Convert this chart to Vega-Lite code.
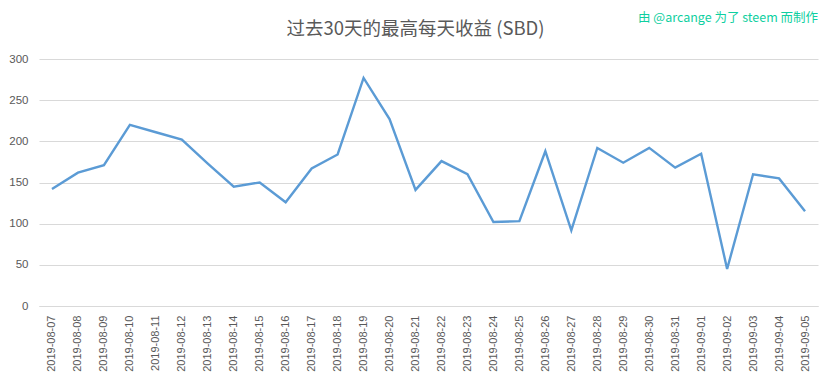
{
  "$schema": "https://vega.github.io/schema/vega-lite/v6.json",
  "width": 779,
  "height": 247,
  "autosize": {"type": "none"},
  "padding": {"left": 39, "top": 59, "right": 15, "bottom": 73},
  "background": "white",
  "config": {
    "view": {"stroke": null},
    "axis": {
      "labelFont": "Liberation Sans",
      "labelColor": "#595959",
      "labelFontSize": 11,
      "ticks": false,
      "title": null
    }
  },
  "datasets": {
    "earnings": [
      {"date": "2019-08-07", "sbd": 142},
      {"date": "2019-08-08", "sbd": 162},
      {"date": "2019-08-09", "sbd": 171},
      {"date": "2019-08-10", "sbd": 220},
      {"date": "2019-08-11", "sbd": 211},
      {"date": "2019-08-12", "sbd": 202},
      {"date": "2019-08-13", "sbd": 173},
      {"date": "2019-08-14", "sbd": 145},
      {"date": "2019-08-15", "sbd": 150},
      {"date": "2019-08-16", "sbd": 126},
      {"date": "2019-08-17", "sbd": 167},
      {"date": "2019-08-18", "sbd": 184},
      {"date": "2019-08-19", "sbd": 277},
      {"date": "2019-08-20", "sbd": 227},
      {"date": "2019-08-21", "sbd": 141},
      {"date": "2019-08-22", "sbd": 176},
      {"date": "2019-08-23", "sbd": 160},
      {"date": "2019-08-24", "sbd": 102},
      {"date": "2019-08-25", "sbd": 103},
      {"date": "2019-08-26", "sbd": 188},
      {"date": "2019-08-27", "sbd": 92},
      {"date": "2019-08-28", "sbd": 192},
      {"date": "2019-08-29", "sbd": 174},
      {"date": "2019-08-30", "sbd": 192},
      {"date": "2019-08-31", "sbd": 168},
      {"date": "2019-09-01", "sbd": 185},
      {"date": "2019-09-02", "sbd": 45},
      {"date": "2019-09-03", "sbd": 160},
      {"date": "2019-09-04", "sbd": 155},
      {"date": "2019-09-05", "sbd": 115}
    ],
    "title": [{"label": "过去30天的最高每天收益 (SBD)"}],
    "note": [{"label": "由 @arcange 为了 steem 而制作"}]
  },
  "layer": [
    {
      "data": {"name": "earnings"},
      "mark": {"type": "line", "color": "#5B9BD5", "strokeWidth": 2.4},
      "encoding": {
        "x": {
          "field": "date",
          "type": "ordinal",
          "sort": null,
          "scale": {"type": "point", "padding": 0.5},
          "axis": {
            "labelAngle": -90,
            "labelPadding": 9,
            "domain": true,
            "domainColor": "#d9d9d9",
            "domainWidth": 1,
            "grid": false
          }
        },
        "y": {
          "field": "sbd",
          "type": "quantitative",
          "scale": {"domain": [0, 300], "nice": false},
          "axis": {
            "values": [0, 50, 100, 150, 200, 250, 300],
            "domain": false,
            "grid": true,
            "gridColor": "#d9d9d9",
            "gridWidth": 1,
            "labelPadding": 11,
            "labelFontSize": 11.5
          }
        }
      }
    },
    {
      "data": {"name": "title"},
      "mark": {
        "type": "text",
        "font": "Noto Sans CJK SC",
        "fontSize": 18.5,
        "color": "#595959",
        "align": "center",
        "baseline": "middle"
      },
      "encoding": {
        "x": {"datum": "2019-08-21"},
        "y": {"datum": 336},
        "text": {"field": "label"}
      }
    },
    {
      "data": {"name": "note"},
      "mark": {
        "type": "text",
        "font": "Noto Sans CJK SC",
        "fontSize": 12.5,
        "color": "#0fcfa0",
        "align": "right",
        "baseline": "middle",
        "dx": 13
      },
      "encoding": {
        "x": {"datum": "2019-09-05"},
        "y": {"datum": 350},
        "text": {"field": "label"}
      }
    }
  ]
}
